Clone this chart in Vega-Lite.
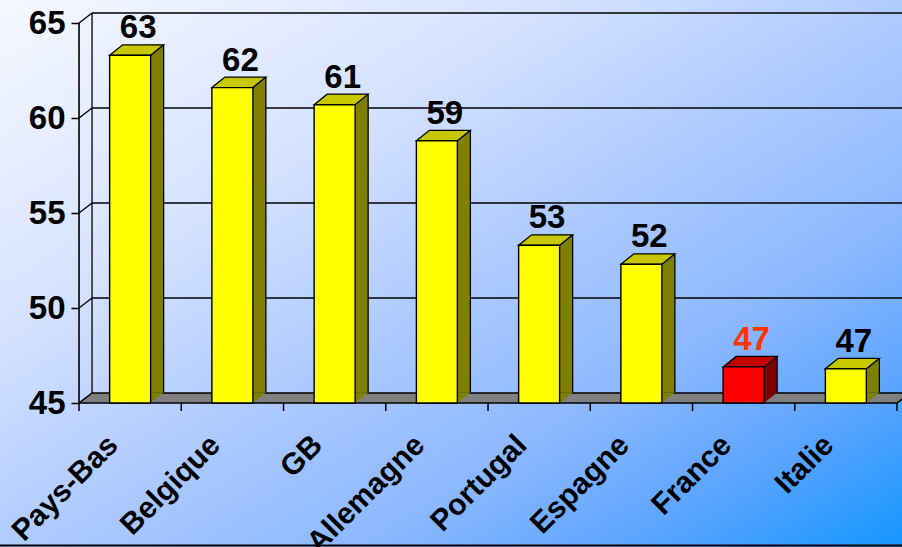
{
  "$schema": "https://vega.github.io/schema/vega-lite/v6.json",
  "width": 902,
  "height": 547,
  "autosize": "none",
  "padding": 0,
  "background": "#ffffff",
  "config": {"view": {"stroke": null}},
  "data": {"values": [
    {"pays": "Pays-Bas", "valeur": 63.3},
    {"pays": "Belgique", "valeur": 61.6},
    {"pays": "GB", "valeur": 60.7},
    {"pays": "Allemagne", "valeur": 58.8},
    {"pays": "Portugal", "valeur": 53.3},
    {"pays": "Espagne", "valeur": 52.3},
    {"pays": "France", "valeur": 46.9},
    {"pays": "Italie", "valeur": 46.8}
  ]},
  "layer": [
    {
      "data": {"values": [{}]},
      "mark": {"type": "rect", "fill": {"gradient": "linear", "x1": 0, "y1": 0, "x2": 1, "y2": 1, "stops": [
        {"offset": 0, "color": "#f6f8ff"},
        {"offset": 0.3, "color": "#d6e3ff"},
        {"offset": 0.5, "color": "#b0ccff"},
        {"offset": 0.7, "color": "#8cb8ff"},
        {"offset": 0.85, "color": "#5aa4ff"},
        {"offset": 1, "color": "#1496ff"}
      ]}},
      "encoding": {}
    },
    {
      "data": {"values": [{"g": 50}, {"g": 55}, {"g": 60}, {"g": 65}]},
      "mark": {"type": "rule", "color": "black", "strokeWidth": 1.3, "xOffset": -38.1, "x2Offset": 64, "yOffset": -10},
      "encoding": {
        "x": {"datum": "Pays-Bas", "type": "nominal", "title": null, "scale": {"type": "band", "domain": ["Pays-Bas", "Belgique", "GB", "Allemagne", "Portugal", "Espagne", "France", "Italie"], "paddingInner": 0, "paddingOuter": 0.4108, "align": 0.9405}, "axis": {"zindex": 2, "offset": -144, "domain": false, "ticks": false, "tickSize": 0, "labelAngle": -45, "labelAlign": "right", "labelBaseline": "middle", "labelFontSize": 30, "labelFont": "Liberation Sans", "labelFontWeight": "bold", "labelColor": "black", "labelPadding": 37, "labelOffset": -17, "labelOverlap": false, "labelBound": false, "labelFlush": false, "title": null}},
        "x2": {"datum": "Italie"},
        "y": {"field": "g", "type": "quantitative", "title": null, "scale": {"domain": [37.421, 66.211], "nice": false, "zero": false}, "axis": {"zindex": 2, "values": [45, 50, 55, 60, 65], "offset": -79, "domain": false, "grid": false, "tickSize": 8, "tickColor": "black", "tickWidth": 1.5, "labelFontSize": 33, "labelFont": "Liberation Sans", "labelFontWeight": "bold", "labelColor": "black", "labelPadding": 6, "labelBaseline": "middle", "title": null}}
      }
    },
    {
      "data": {"values": [{"g": 50}, {"g": 55}, {"g": 60}, {"g": 65}]},
      "mark": {"type": "rule", "color": "black", "strokeWidth": 1.3, "xOffset": -51.1, "x2Offset": -38.1, "y2Offset": -10},
      "encoding": {
        "x": {"datum": "Pays-Bas", "type": "nominal", "title": null},
        "x2": {"datum": "Pays-Bas"},
        "y": {"field": "g", "type": "quantitative", "title": null},
        "y2": {"field": "g"}
      }
    },
    {
      "data": {"values": [{}]},
      "mark": {"type": "rule", "color": "black", "strokeWidth": 1.3, "xOffset": -38.1, "yOffset": -10, "y2Offset": -10},
      "encoding": {
        "x": {"datum": "Pays-Bas", "type": "nominal", "title": null},
        "y": {"datum": 45, "type": "quantitative", "title": null},
        "y2": {"datum": 65}
      }
    },
    {
      "data": {"values": [{}]},
      "mark": {"type": "point", "shape": "M -0.063875 0 L 0.958625 0 L 0.974875 -0.0125 L -0.047625 -0.0125 Z", "size": 2560000, "filled": true, "fill": "#808080", "stroke": "black", "strokeWidth": 1.5, "opacity": 1, "fillOpacity": 1},
      "encoding": {
        "x": {"datum": "Pays-Bas", "type": "nominal", "title": null},
        "y": {"datum": 45, "type": "quantitative", "title": null}
      }
    },
    {
      "mark": {"type": "rule", "color": "black", "strokeWidth": 1.5, "xOffset": -51.1, "y2Offset": 8},
      "encoding": {
        "x": {"field": "pays", "type": "nominal", "title": null},
        "y": {"datum": 45, "type": "quantitative", "title": null},
        "y2": {"datum": 45}
      }
    },
    {
      "data": {"values": [{}]},
      "mark": {"type": "rule", "color": "black", "strokeWidth": 1.5, "xOffset": 51.1, "y2Offset": 8},
      "encoding": {
        "x": {"datum": "Italie", "type": "nominal", "title": null},
        "y": {"datum": 45, "type": "quantitative", "title": null},
        "y2": {"datum": 45}
      }
    },
    {
      "data": {"values": [{}]},
      "mark": {"type": "rule", "color": "black", "strokeWidth": 1.6, "xOffset": -51.1},
      "encoding": {
        "x": {"datum": "Pays-Bas", "type": "nominal", "title": null},
        "y": {"datum": 45, "type": "quantitative", "title": null},
        "y2": {"datum": 65}
      }
    },
    {
      "data": {"values": [{}]},
      "mark": {"type": "rule", "color": "black", "strokeWidth": 2, "xOffset": -140, "x2Offset": 70},
      "encoding": {
        "x": {"datum": "Pays-Bas", "type": "nominal", "title": null},
        "x2": {"datum": "Italie"},
        "y": {"datum": 37.5, "type": "quantitative", "title": null}
      }
    },
    {
      "mark": {"type": "bar", "width": 13, "xOffset": 27, "yOffset": -10.5, "y2Offset": -10.5},
      "encoding": {
        "x": {"field": "pays", "type": "nominal", "title": null},
        "y": {"field": "valeur", "type": "quantitative", "title": null},
        "y2": {"datum": 45},
        "fill": {"condition": {"test": "datum.pays === 'France'", "value": "#800000"}, "value": "#808000"}
      }
    },
    {
      "mark": {"type": "rule", "color": "black", "strokeWidth": 1.3, "xOffset": 33.5, "yOffset": -10.5, "y2Offset": -10.5},
      "encoding": {
        "x": {"field": "pays", "type": "nominal", "title": null},
        "y": {"field": "valeur", "type": "quantitative", "title": null},
        "y2": {"datum": 45}
      }
    },
    {
      "mark": {"type": "point", "shape": "M 0.5125 -0.2625 L 0.5125 0 L 0.8375 -0.2625 Z", "size": 6400, "filled": true, "opacity": 1, "fillOpacity": 1, "strokeWidth": 0},
      "encoding": {
        "x": {"field": "pays", "type": "nominal", "title": null},
        "y": {"datum": 45, "type": "quantitative", "title": null},
        "fill": {"condition": {"test": "datum.pays === 'France'", "value": "#800000"}, "value": "#808000"}
      }
    },
    {
      "mark": {"type": "point", "shape": "M -0.5125 0 L -0.1875 -0.2625 L 0.8375 -0.2625 L 0.5125 0 Z", "size": 6400, "filled": true, "opacity": 1, "fillOpacity": 1, "stroke": "black", "strokeWidth": 1.3},
      "encoding": {
        "x": {"field": "pays", "type": "nominal", "title": null},
        "y": {"field": "valeur", "type": "quantitative", "title": null},
        "fill": {"condition": {"test": "datum.pays === 'France'", "value": "#c00000"}, "value": "#c8c800"}
      }
    },
    {
      "mark": {"type": "bar", "width": 41, "stroke": "black", "strokeWidth": 1.4},
      "encoding": {
        "x": {"field": "pays", "type": "nominal", "title": null},
        "y": {"field": "valeur", "type": "quantitative", "title": null},
        "y2": {"datum": 45},
        "fill": {"condition": {"test": "datum.pays === 'France'", "value": "#ff0000"}, "value": "#ffff00"}
      }
    },
    {
      "mark": {"type": "text", "font": "Liberation Sans", "fontWeight": "bold", "fontSize": 33, "align": "center", "baseline": "alphabetic", "xOffset": 8, "yOffset": -17},
      "encoding": {
        "x": {"field": "pays", "type": "nominal", "title": null},
        "y": {"field": "valeur", "type": "quantitative", "title": null},
        "text": {"field": "valeur", "type": "quantitative", "format": ".0f"},
        "color": {"condition": {"test": "datum.pays === 'France'", "value": "#ff3300"}, "value": "#000000"}
      }
    }
  ]
}
